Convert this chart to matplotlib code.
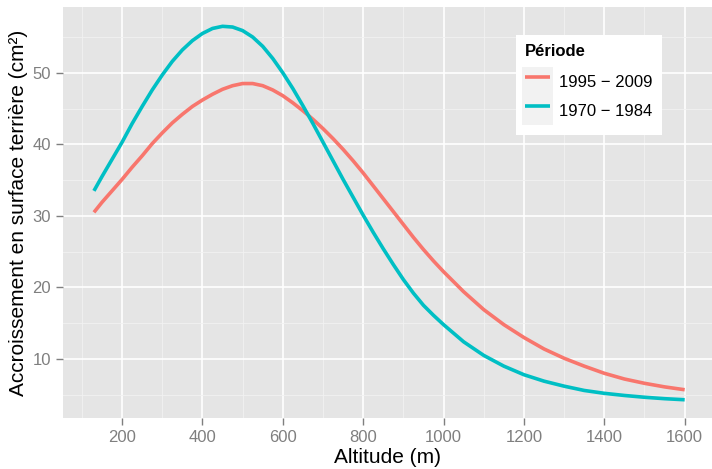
import matplotlib
matplotlib.use("Agg")
import matplotlib.pyplot as plt
from matplotlib.patches import Rectangle
from matplotlib.legend_handler import HandlerLine2D
from matplotlib.ticker import MultipleLocator

# altitude (m) and basal area increment (cm²)
altitude = [130, 150, 175, 200, 225, 250, 275, 300, 325, 350, 375, 400, 425, 450,
            475, 500, 525, 550, 575, 600, 625, 650, 675, 700, 725, 750, 775, 800,
            825, 850, 875, 900, 925, 950, 975, 1000, 1050, 1100, 1150, 1200, 1250,
            1300, 1350, 1400, 1450, 1500, 1550, 1600]
recent = [30.5, 31.9, 33.5, 35.1, 36.8, 38.4, 40.1, 41.6, 43.0, 44.2, 45.3, 46.2,
          47.0, 47.7, 48.2, 48.5, 48.5, 48.2, 47.6, 46.8, 45.8, 44.7, 43.5, 42.2,
          40.8, 39.3, 37.7, 36.0, 34.2, 32.4, 30.6, 28.8, 27.0, 25.3, 23.7, 22.2,
          19.4, 16.9, 14.8, 13.0, 11.4, 10.1, 9.0, 8.0, 7.2, 6.6, 6.1, 5.7]
old = [33.5, 35.5, 37.9, 40.3, 42.9, 45.3, 47.6, 49.7, 51.6, 53.2, 54.5, 55.5,
       56.2, 56.5, 56.4, 55.9, 55.0, 53.7, 52.0, 50.0, 47.8, 45.4, 42.9, 40.3,
       37.7, 35.1, 32.6, 30.1, 27.7, 25.4, 23.2, 21.1, 19.2, 17.5, 16.1, 14.8,
       12.4, 10.5, 9.0, 7.8, 6.9, 6.2, 5.6, 5.2, 4.9, 4.65, 4.45, 4.3]
series_labels = ["1995 \u2212 2009", "1970 \u2212 1984"]
colors = ["#F8766D", "#00BFC4"]

plt.rcParams["font.family"] = ["Liberation Sans", "DejaVu Sans"]

fig = plt.figure(figsize=(7.12, 4.69), dpi=100)
ax = fig.add_axes([63 / 712, 1 - 418 / 469, 649 / 712, 411 / 469])
ax.set_facecolor("#E5E5E5")
for s in ax.spines.values():
    s.set_visible(False)

l1, = ax.plot(altitude, recent, color=colors[0], lw=2.6, solid_capstyle="butt")
l2, = ax.plot(altitude, old, color=colors[1], lw=2.6, solid_capstyle="butt")

ax.set_xlim(53, 1668)
ax.set_ylim(1.75, 59.2)
ax.xaxis.set_major_locator(MultipleLocator(200))
ax.xaxis.set_minor_locator(MultipleLocator(100))
ax.set_yticks([10, 20, 30, 40, 50])
ax.yaxis.set_minor_locator(MultipleLocator(5))
ax.grid(which="major", color="white", lw=1.2)
ax.grid(which="minor", color="#F2F2F2", lw=0.6)
ax.set_axisbelow(True)
ax.tick_params(which="major", colors="#7F7F7F", labelsize=12, length=5, width=1,
               pad=3.5)
ax.tick_params(which="minor", length=0)
ax.set_xlabel("Altitude (m)", fontsize=15, labelpad=2.5)
ax.set_ylabel("Accroissement en surface terri\u00e8re (cm\u00b2)", fontsize=15,
              labelpad=3)


class KeyHandler(HandlerLine2D):
    def create_artists(self, legend, orig_handle, xdescent, ydescent, width,
                       height, fontsize, trans):
        arts = super().create_artists(legend, orig_handle, xdescent, ydescent,
                                      width, height, fontsize, trans)
        bg = Rectangle((-xdescent - 2, -ydescent), width + 4, height,
                       facecolor="#F2F2F2", edgecolor="none", transform=trans)
        return [bg] + arts


leg = ax.legend([l1, l2], series_labels, title="P\u00e9riode",
                loc="upper left", bbox_to_anchor=(516 / 712, 1 - 35 / 469),
                bbox_transform=fig.transFigure, borderaxespad=0, frameon=True,
                fancybox=False, facecolor="white", edgecolor="none", framealpha=1,
                fontsize=12, title_fontproperties={"weight": "bold", "size": 12},
                handlelength=1.5, handleheight=2.3, handletextpad=0.55,
                labelspacing=0.0, borderpad=0.55, alignment="left",
                handler_map={l1: KeyHandler(), l2: KeyHandler()})
for h in leg.legend_handles:
    h.set_linewidth(3.2)
# gap between the legend title and the keys
leg._legend_box.sep = 6

fig.savefig("out.png", dpi=100)
